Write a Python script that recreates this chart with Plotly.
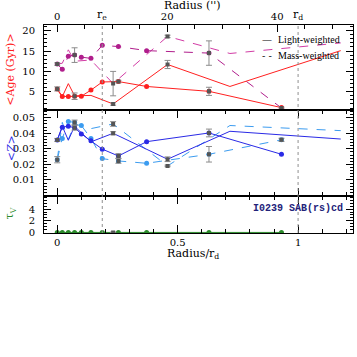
import plotly.graph_objects as go
from plotly.subplots import make_subplots

# radii (in units of the disk scale length r_d)
R_A = [0, 0.021, 0.046, 0.072, 0.1, 0.14, 0.187, 0.254, 0.371, 0.63, 0.931]
R_B = [0, 0.021, 0.046, 0.072, 0.14, 0.232, 0.458, 0.717, 1.177]
R_E = 0.187
R_D = 1.0
RD_ARCSEC = 43.8
ARCSEC_TICKS = [0, 20, 40]

# <Age> (Gyr)
AGE_LW_A = [5.7, 3.85, 3.85, 3.9, 3.9, 5.4, 7.4, 7.5, 6.3, 5.1, 1.1]
AGE_LW_B = [5.5, 3.8, 7.0, 4.0, 4.1, 2.0, 11.7, 6.3, 15.1]
AGE_MW_A = [11.8, 10.5, 13.7, 14.0, 13.5, 13.2, 16.4, 16.1, 15.1, 14.5, 1.0]
AGE_MW_B = [11.8, 12.0, 15.3, 12.5, 12.8, 7.0, 18.6, 14.4, 17.0]
AGE_LW_ERR_A = [0.5, None, None, 0.8, None, None, None, 0.3, None, 1.0, None]
AGE_LW_ERR_B = [None, None, None, None, None, 0.3, 1.0, None, None]
AGE_MW_ERR_A = [0.3, None, None, 1.8, None, None, None, None, None, 3.0, 0.2]
AGE_MW_ERR_B = [None, None, None, None, None, 3.0, 0.3, None, None]

# <Z>
Z_LW_A = [0.0357, 0.0439, 0.0446, 0.0435, 0.0396, 0.0352, 0.0298, 0.0254, 0.0346, 0.0402, 0.0265]
Z_LW_B = [0.0357, 0.0445, 0.0355, 0.0445, 0.0345, 0.0400, 0.0233, 0.0413, 0.0363]
Z_MW_A = [0.023, 0.0367, 0.0476, 0.047, 0.045, 0.0367, 0.0237, 0.0222, 0.0207, 0.0265, 0.0358]
Z_MW_B = [0.023, 0.047, 0.036, 0.046, 0.043, 0.046, 0.019, 0.045, 0.0417]
Z_LW_ERR_A = [0.001, None, None, 0.0015, None, None, None, 0.0015, None, 0.0025, None]
Z_LW_ERR_B = [None, None, None, None, None, 0.001, 0.0015, None, None]
Z_MW_ERR_A = [0.002, None, None, 0.0015, None, None, None, 0.0015, None, 0.005, 0.001]
Z_MW_ERR_B = [None, None, None, None, None, 0.0015, 0.0005, None, None]

# tau_V
TAU_A = [0, 0, 0, 0, 0, 0, 0, 0, 0, 0, 0]
TAU_B = [0, 0, 0, 0, 0, 0, 0, 0, 0]
TAU_ERR_B = [None, None, None, None, None, 0.05, None, None, None]

RED = "#ff2020"
MAGENTA = "#d23ca5"
MAGENTA_DOT = "#b01e8c"
BLUE = "#2a2ae6"
LBLUE = "#3c9cf0"
GREEN = "#2a8a2a"
SERIF = "DejaVu Serif"

fig = make_subplots(rows=3, cols=1, shared_xaxes=True, vertical_spacing=0,
                    row_heights=[0.407, 0.417, 0.176])


def add_series(x, y, color, dash, row, markers):
    fig.add_trace(go.Scatter(
        x=x, y=y, mode="lines+markers" if markers else "lines",
        line=dict(color=color, width=1, dash=dash),
        marker=dict(size=5, color=color),
        showlegend=False, hoverinfo="skip"), row=row, col=1)


def add_errors(x, y, err, row):
    pts = [(a, b, e) for a, b, e in zip(x, y, err) if e is not None]
    fig.add_trace(go.Scatter(
        x=[p[0] for p in pts], y=[p[1] for p in pts], mode="markers",
        marker=dict(symbol="square", size=4, color="#555555"),
        error_y=dict(type="data", array=[p[2] for p in pts], color="#8c8c8c",
                     thickness=1, width=3),
        showlegend=False, hoverinfo="skip"), row=row, col=1)


def note(x, y, text, size=11, color="black", family=SERIF, xanchor="center", angle=0):
    fig.add_annotation(x=x, y=y, xref="paper", yref="paper", text=text, showarrow=False,
                       xanchor=xanchor, yanchor="middle", textangle=angle,
                       font=dict(family=family, size=size, color=color))


# top panel: ages
add_series(R_B, AGE_MW_B, MAGENTA, "dash", 1, False)
add_series(R_A, AGE_MW_A, MAGENTA_DOT, "dash", 1, True)
add_series(R_B, AGE_LW_B, RED, "solid", 1, False)
add_series(R_A, AGE_LW_A, RED, "solid", 1, True)
add_errors(R_A, AGE_LW_A, AGE_LW_ERR_A, 1)
add_errors(R_B, AGE_LW_B, AGE_LW_ERR_B, 1)
add_errors(R_A, AGE_MW_A, AGE_MW_ERR_A, 1)
add_errors(R_B, AGE_MW_B, AGE_MW_ERR_B, 1)

# middle panel: metallicities
add_series(R_B, Z_MW_B, LBLUE, "dash", 2, False)
add_series(R_A, Z_MW_A, LBLUE, "dash", 2, True)
add_series(R_B, Z_LW_B, BLUE, "solid", 2, False)
add_series(R_A, Z_LW_A, BLUE, "solid", 2, True)
add_errors(R_A, Z_LW_A, Z_LW_ERR_A, 2)
add_errors(R_B, Z_LW_B, Z_LW_ERR_B, 2)
add_errors(R_A, Z_MW_A, Z_MW_ERR_A, 2)
add_errors(R_B, Z_MW_B, Z_MW_ERR_B, 2)

# bottom panel: extinction
add_series(R_A, TAU_A, GREEN, "solid", 3, True)
add_errors(R_B, TAU_B, TAU_ERR_B, 3)

x_range = [-0.055, 1.228]
axis_common = dict(showline=True, linecolor="black", linewidth=1, ticks="inside",
                   tickcolor="black", showgrid=False, zeroline=False,
                   tickfont=dict(family=SERIF, size=10, color="black"))

# bottom x axis (and mirrored on panel boundaries)
for r in (2, 3):
    fig.update_xaxes(range=x_range, tick0=0, dtick=0.5, ticklen=8, mirror="ticks",
                     minor=dict(dtick=0.1, tick0=0, ticklen=4, ticks="inside", tickcolor="black"),
                     showticklabels=(r == 3), row=r, col=1, **axis_common)

# top axis in arcsec
arcsec_minor = list(range(0, 55, 5))
fig.update_xaxes(range=x_range, side="top", mirror=True, showticklabels=True,
                 tickmode="array", tickvals=[a / RD_ARCSEC for a in ARCSEC_TICKS],
                 ticktext=[str(a) for a in ARCSEC_TICKS], ticklen=7,
                 minor=dict(tickmode="array", tickvals=[a / RD_ARCSEC for a in arcsec_minor],
                            ticklen=4, ticks="inside", tickcolor="black"),
                 row=1, col=1, **axis_common)

fig.update_yaxes(range=[0.6, 21.4], tickvals=[5, 10, 15, 20], ticklen=7, mirror="ticks",
                 minor=dict(dtick=1, tick0=0, ticklen=3, ticks="inside", tickcolor="black"),
                 ticklabelstandoff=6, row=1, col=1, **axis_common)
fig.update_yaxes(range=[-0.0006, 0.0552], tickvals=[0.01, 0.02, 0.03, 0.04, 0.05],
                 ticktext=["0.01", "0.02", "0.03", "0.04", "0.05"], ticklen=7, mirror="ticks",
                 minor=dict(dtick=0.002, tick0=0, ticklen=3, ticks="inside", tickcolor="black"),
                 ticklabelstandoff=6, row=2, col=1, **axis_common)
fig.update_yaxes(range=[-0.1, 6.2], tickvals=[0, 2, 4], ticklen=7, mirror="ticks",
                 minor=dict(dtick=0.5, tick0=0, ticklen=3, ticks="inside", tickcolor="black"),
                 ticklabelstandoff=6, row=3, col=1, **axis_common)

# r_e and r_d markers
for xv, lab in ((R_E, "r<sub>e</sub>"), (R_D, "r<sub>d</sub>")):
    fig.add_shape(type="line", xref="x", yref="paper", x0=xv, x1=xv, y0=0, y1=1,
                  line=dict(color="#909090", width=1, dash="dot"))
    fig.add_annotation(x=xv, y=1, xref="x", yref="paper", yanchor="bottom", yshift=1,
                       text=lab, showarrow=False,
                       font=dict(family=SERIF, size=11, color="black"))

# axis titles
note(0.482, 1.093, "Radius ('')")
note(0.482, -0.1, "Radius/r<sub>d</sub>")
note(-0.107, 0.785, "&lt;Age (Gyr)&gt;", color=RED, angle=-90)
note(-0.107, 0.407, "&lt;<i>Z</i>&gt;", color=BLUE, angle=-90)
note(-0.107, 0.094, "τ<sub>V</sub>", color=GREEN, angle=-90)

# legend
note(0.722, 0.9325, "—", size=10)
note(0.722, 0.855, "- -", size=10)
note(0.751, 0.9325, "Light-weighted", size=10, family="Liberation Serif", xanchor="left")
note(0.751, 0.855, "Mass-weighted", size=10, family="Liberation Serif", xanchor="left")

# galaxy label
note(0.974, 0.118, "<b>I0239 SAB(rs)cd</b>", size=10, color="#23237a",
     family="Liberation Mono", xanchor="right")

fig.update_layout(width=357, height=357, margin=dict(l=44, r=4, t=25, b=124),
                  paper_bgcolor="white", plot_bgcolor="white", showlegend=False)

# drop the page's default body margin so the figure sits at the window corner
fig.write_html("out.html", config={"displayModeBar": False},
               post_script="document.body.style.margin='0px';")
